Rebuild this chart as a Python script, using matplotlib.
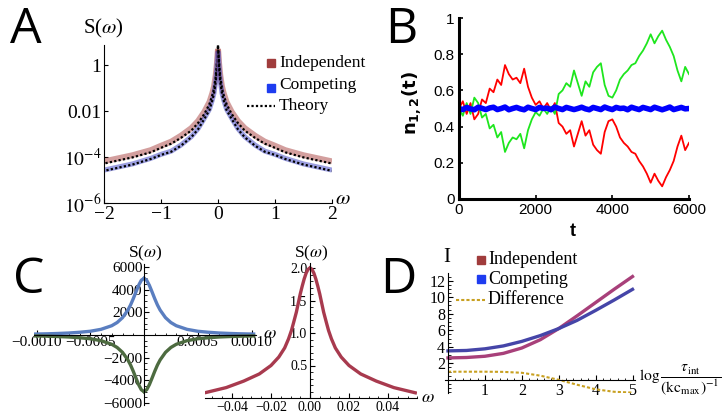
import numpy as np
import matplotlib
matplotlib.use("Agg")
import matplotlib.pyplot as plt
from matplotlib.patches import Rectangle
from matplotlib.lines import Line2D
from matplotlib.ticker import FixedLocator, FixedFormatter, NullLocator, MultipleLocator

plt.rcParams['font.family'] = 'Liberation Serif'
plt.rcParams['mathtext.fontset'] = 'stix'

# ---- Panel A: spectra (positive half, curves are even in omega) ----
omega_a = [0, 0.005, 0.01, 0.02, 0.04, 0.07, 0.1, 0.15, 0.24, 0.35, 0.47,
           0.65, 0.82, 1.0, 1.18, 1.5, 2.0]
s_independent = [5.0, 4.0, 2.8, 1.2, 0.38, 0.12, 0.06, 0.025, 0.0093, 0.0037,
                 0.0018, 0.00085, 0.00047, 0.00031, 0.0002, 0.00012, 0.000065]
s_competing = [4.0, 3.2, 2.2, 0.8, 0.2, 0.06, 0.03, 0.012, 0.0048, 0.0017,
               0.00076, 0.00033, 0.00018, 0.00013, 0.000087, 0.00005, 0.000027]
theory_ind = [7.0, 5.0, 3.0, 1.2, 0.3, 0.095, 0.048, 0.02, 0.0074, 0.003,
              0.0014, 0.00068, 0.00038, 0.00025, 0.00016, 0.000096, 0.000052]
theory_comp = [6.0, 4.0, 2.3, 0.76, 0.19, 0.057, 0.028, 0.011, 0.0045, 0.0016,
               0.00072, 0.00031, 0.00017, 0.000123, 0.000082, 0.000047, 0.000025]

# ---- Panel B: trajectories, sampled every 100 steps ----
t_b = np.arange(0, 6001, 100)
n_red = [0.50, 0.54, 0.47, 0.53, 0.44, 0.47, 0.55, 0.53, 0.61, 0.59,
         0.66, 0.63, 0.74, 0.69, 0.66, 0.67, 0.64, 0.72, 0.62, 0.56,
         0.52, 0.54, 0.50, 0.53, 0.49, 0.53, 0.42, 0.40, 0.36, 0.38,
         0.29, 0.36, 0.43, 0.35, 0.38, 0.30, 0.27, 0.25, 0.37, 0.43,
         0.44, 0.40, 0.34, 0.31, 0.29, 0.26, 0.25, 0.21, 0.18, 0.14,
         0.09, 0.14, 0.10, 0.07, 0.12, 0.16, 0.21, 0.29, 0.35, 0.27,
         0.31]
n_green = [0.50, 0.46, 0.53, 0.47, 0.56, 0.53, 0.45, 0.47, 0.39, 0.41,
           0.34, 0.37, 0.26, 0.31, 0.34, 0.33, 0.36, 0.28, 0.38, 0.44,
           0.48, 0.46, 0.50, 0.47, 0.51, 0.47, 0.58, 0.60, 0.64, 0.62,
           0.71, 0.64, 0.57, 0.65, 0.62, 0.70, 0.73, 0.75, 0.63, 0.57,
           0.56, 0.60, 0.66, 0.69, 0.71, 0.74, 0.75, 0.79, 0.82, 0.86,
           0.91, 0.86, 0.90, 0.93, 0.88, 0.84, 0.79, 0.71, 0.65, 0.73,
           0.69]
n_blue = [0.500, 0.494, 0.506, 0.498, 0.493, 0.507, 0.501, 0.494, 0.503, 0.507,
          0.494, 0.500, 0.508, 0.493, 0.500, 0.506, 0.498, 0.493, 0.507, 0.500,
          0.494, 0.506, 0.500, 0.502, 0.493, 0.508, 0.500, 0.494, 0.506, 0.500,
          0.494, 0.500, 0.507, 0.498, 0.493, 0.506, 0.500, 0.494, 0.508, 0.500,
          0.494, 0.506, 0.500, 0.502, 0.493, 0.507, 0.500, 0.494, 0.506, 0.500,
          0.494, 0.507, 0.500, 0.493, 0.500, 0.508, 0.494, 0.500, 0.506, 0.498,
          0.500]

# ---- Panel C: Lorentzian-like spectra (positive half) ----
omega_c1 = [0, 0.25e-4, 0.5e-4, 0.75e-4, 1.0e-4, 1.25e-4, 1.5e-4, 2e-4, 2.5e-4,
            3e-4, 4e-4, 5e-4, 6e-4, 7e-4, 8e-4, 9e-4, 10e-4, 10.2e-4]
s_c_blue = [5000, 4830, 4380, 3800, 3200, 2650, 2200, 1530, 1100,
            820, 500, 330, 240, 175, 135, 105, 85, 82]
s_c_green = [-5000, -4830, -4380, -3800, -3200, -2650, -2200, -1530, -1100,
             -820, -500, -330, -240, -175, -135, -105, -85, -82]
omega_c2 = [0, 0.001, 0.002, 0.003, 0.004, 0.005, 0.006, 0.007, 0.0085, 0.0095,
            0.011, 0.013, 0.016, 0.02, 0.026, 0.034, 0.043, 0.054]
s_c_red = [2.0, 1.98, 1.92, 1.83, 1.72, 1.60, 1.46, 1.32, 1.15, 1.04,
           0.91, 0.77, 0.63, 0.50, 0.37, 0.26, 0.16, 0.08]

# ---- Panel D ----
x_d = [0, 0.5, 1, 1.5, 2, 2.5, 3, 3.5, 4, 4.5, 5]
independent_d = [2.65, 2.7, 2.85, 3.2, 3.85, 4.85, 6.2, 7.75, 9.35, 10.95, 12.5]
competing_d = [3.5, 3.55, 3.75, 4.1, 4.65, 5.35, 6.2, 7.2, 8.4, 9.65, 10.95]
difference_d = [0.98, 0.98, 0.98, 0.96, 0.85, 0.5, 0.0, -0.6, -1.15, -1.45, -1.55]

W, H = 728, 417


def box(x0, x1, ytop, ybot):
    return [x0 / W, 1 - ybot / H, (x1 - x0) / W, (ybot - ytop) / H]


def fx(x):
    return x / W


def fy(y):
    return 1 - y / H


fig = plt.figure(figsize=(W / 100, H / 100), dpi=100)

# ================= A =================
axA = fig.add_axes(box(104, 332, 45, 203))
axA.set_yscale('log')
wa = np.array(omega_a)
for sgn in (-1, 1):
    axA.plot(sgn * wa, s_independent, color='#b0504f', lw=4.2, alpha=0.55,
             solid_capstyle='butt')
    axA.plot(sgn * wa, s_competing, color='#4a4fc8', lw=3.6, alpha=0.55,
             solid_capstyle='butt')
    axA.plot(sgn * wa, theory_ind, color='black', lw=1.6, ls=(0, (1, 1)))
    axA.plot(sgn * wa, theory_comp, color='black', lw=1.6, ls=(0, (1, 1)))
axA.set_xlim(-2, 2)
axA.set_ylim(1e-6, 10 ** 0.87)
for s in ('top', 'right'):
    axA.spines[s].set_visible(False)
axA.yaxis.set_major_locator(FixedLocator([1e-6, 1e-4, 1e-2, 1]))
axA.yaxis.set_major_formatter(FixedFormatter(['$10^{-6}$', '$10^{-4}$', '0.01', '1']))
axA.yaxis.set_minor_locator(NullLocator())
axA.set_xticks([-2, -1, 0, 1, 2])
axA.tick_params(direction='in', length=3, labelsize=14, pad=2)
fig.text(fx(103), fy(28), r'S($\omega$)', fontsize=15, ha='center', va='center')
fig.text(fx(343), fy(200), r'$\omega$', fontsize=15, ha='center', va='center')
# legend A
fig.add_artist(Rectangle((fx(267), fy(67)), 8 / W, 8 / H, color='#a03c3c',
                         transform=fig.transFigure))
fig.add_artist(Rectangle((fx(267), fy(92)), 8 / W, 8 / H, color='#1e3cf0',
                         transform=fig.transFigure))
fig.add_artist(Line2D([fx(247), fx(275)], [fy(106), fy(106)], color='black',
                      lw=1.6, ls=(0, (1, 1)), transform=fig.transFigure))
fig.text(fx(279), fy(63), 'Independent', fontsize=12.5, va='center')
fig.text(fx(279), fy(85), 'Competing', fontsize=12.5, va='center')
fig.text(fx(279), fy(106), 'Theory', fontsize=12.5, va='center')

# ================= B =================
axB = fig.add_axes(box(459, 689, 18, 199))
axB.plot(t_b, n_red, color='#ff0000', lw=1.3)
axB.plot(t_b, n_green, color='#1ee61e', lw=1.3)
axB.plot(t_b, n_blue, color='#0000ff', lw=4)
axB.set_xlim(0, 6000)
axB.set_ylim(0, 1)
for s in ('top', 'right'):
    axB.spines[s].set_visible(False)
for s in ('left', 'bottom'):
    axB.spines[s].set_linewidth(2.2)
axB.set_xticks([0, 2000, 4000, 6000])
axB.set_yticks([0, 0.2, 0.4, 0.6, 0.8, 1])
axB.set_yticklabels(['0', '0.2', '0.4', '0.6', '0.8', '1'])
axB.tick_params(direction='in', length=3, width=1.2, labelsize=11, pad=3)
for lab in axB.get_xticklabels() + axB.get_yticklabels():
    lab.set_fontfamily('Liberation Sans')
fig.text(fx(412), fy(103), r'$\mathbf{n}_{\mathbf{1,2}}\mathbf{(t)}$', rotation=90,
         fontsize=13, ha='center', va='center', math_fontfamily='dejavusans')
fig.text(fx(573), fy(232), 't', fontsize=13, fontweight='bold',
         family='Liberation Sans', ha='center', va='center')

# ================= C left =================
axC1 = fig.add_axes(box(144 - 0.00102 * 107500, 144 + 0.00104 * 107500,
                        335 - 6300 * 0.011333, 335 + 6200 * 0.011333))
wc1 = np.array(omega_c1)
for sgn in (-1, 1):
    axC1.plot(sgn * wc1, s_c_blue, color='#5a7ec0', lw=2.4)
    axC1.plot(sgn * wc1, s_c_green, color='#4d6b40', lw=2.4)
axC1.set_xlim(-0.00102, 0.00104)
axC1.set_ylim(-6200, 6300)
axC1.patch.set_alpha(0)
for s in ('top', 'right'):
    axC1.spines[s].set_visible(False)
axC1.spines['left'].set_position('zero')
axC1.spines['bottom'].set_position('zero')
axC1.set_xticks([-0.001, -0.0005, 0.0005, 0.001])
axC1.set_xticklabels(['\u22120.0010', '\u22120.0005', '0.0005', '0.0010'])
axC1.set_yticks([-6000, -4000, -2000, 2000, 4000, 6000])
axC1.set_yticklabels(['\u22126000', '\u22124000', '\u22122000', '2000', '4000', '6000'])
axC1.xaxis.set_minor_locator(MultipleLocator(0.0001))
axC1.yaxis.set_minor_locator(MultipleLocator(500))
axC1.tick_params(which='major', direction='in', length=3.5, labelsize=11, pad=1)
axC1.tick_params(which='minor', direction='in', length=1.8)
fig.text(fx(145), fy(253), r'S($\omega$)', fontsize=12.5, ha='center', va='center')
fig.text(fx(270), fy(333), r'$\omega$', fontsize=13, ha='center', va='center')

# ================= C right =================
axC2 = fig.add_axes(box(310 - 0.054 * 1950, 310 + 0.055 * 1950, 398 - 2.07 * 65, 398))
wc2 = np.array(omega_c2)
for sgn in (-1, 1):
    axC2.plot(sgn * wc2, s_c_red, color='#a83a4e', lw=2.4)
axC2.set_xlim(-0.054, 0.055)
axC2.set_ylim(0, 2.07)
axC2.patch.set_alpha(0)
for s in ('top', 'right'):
    axC2.spines[s].set_visible(False)
axC2.spines['left'].set_position('zero')
axC2.set_xticks([-0.04, -0.02, 0, 0.02, 0.04])
axC2.set_xticklabels(['\u22120.04', '\u22120.02', '0.00', '0.02', '0.04'])
axC2.set_yticks([0.5, 1.0, 1.5, 2.0])
axC2.set_yticklabels(['0.5', '1.0', '1.5', '2.0'])
axC2.xaxis.set_minor_locator(MultipleLocator(0.005))
axC2.yaxis.set_minor_locator(MultipleLocator(0.1))
axC2.tick_params(which='major', direction='in', length=3.5, labelsize=10, pad=2)
axC2.tick_params(which='minor', direction='in', length=1.8)
fig.text(fx(311), fy(253), r'S($\omega$)', fontsize=12.5, ha='center', va='center')
fig.text(fx(428), fy(397), r'$\omega$', fontsize=13, ha='center', va='center')

# ================= D =================
axD = fig.add_axes(box(448 - 0.08 * 36.9, 448 + 5.08 * 36.9,
                       379.8 - 12.9 * 8.26, 379.8 + 1.65 * 8.26))
axD.plot(x_d, independent_d, color='#a8407a', lw=2.4)
axD.plot(x_d, competing_d, color='#4545a8', lw=2.4)
axD.plot(x_d, difference_d, color='#c8a020', lw=1.5, ls=(0, (1.5, 1)))
axD.set_xlim(-0.08, 5.08)
axD.set_ylim(-1.65, 12.9)
axD.patch.set_alpha(0)
for s in ('top', 'right'):
    axD.spines[s].set_visible(False)
axD.spines['left'].set_position('zero')
axD.spines['bottom'].set_position('zero')
axD.set_xticks([1, 2, 3, 4, 5])
axD.set_yticks([2, 4, 6, 8, 10, 12])
axD.xaxis.set_minor_locator(MultipleLocator(0.2))
axD.yaxis.set_minor_locator(MultipleLocator(0.5))
axD.tick_params(which='major', direction='in', length=3.5, labelsize=11.5, pad=2)
axD.tick_params(which='minor', direction='in', length=1.8)
fig.text(fx(447), fy(258), 'I', fontsize=15, ha='center', va='center')
fig.text(fx(639), fy(380),
         r'$\log\dfrac{\tau_{\mathrm{int}}}{(\mathrm{kc}_{\mathrm{max}})^{-1}}$',
         fontsize=11.2, ha='left', va='center')
# legend D
fig.add_artist(Rectangle((fx(477), fy(264)), 8 / W, 8 / H, color='#a03c3c',
                         transform=fig.transFigure))
fig.add_artist(Rectangle((fx(477), fy(283)), 8 / W, 8 / H, color='#1e3cf0',
                         transform=fig.transFigure))
fig.add_artist(Line2D([fx(456), fx(485)], [fy(300), fy(300)], color='#c8a020',
                      lw=1.5, ls=(0, (1.5, 1)), transform=fig.transFigure))
fig.text(fx(488), fy(260), 'Independent', fontsize=13, va='center')
fig.text(fx(488), fy(279), 'Competing', fontsize=13, va='center')
fig.text(fx(488), fy(300), 'Difference', fontsize=13, va='center')

# panel letters
for letter, x, y in [('A', 10, 43), ('B', 385, 43), ('C', 13, 293), ('D', 380, 293)]:
    fig.text(fx(x), fy(y), letter, fontsize=36, family='Open Sans',
             ha='left', va='baseline')

fig.savefig('out.png', dpi=100)
